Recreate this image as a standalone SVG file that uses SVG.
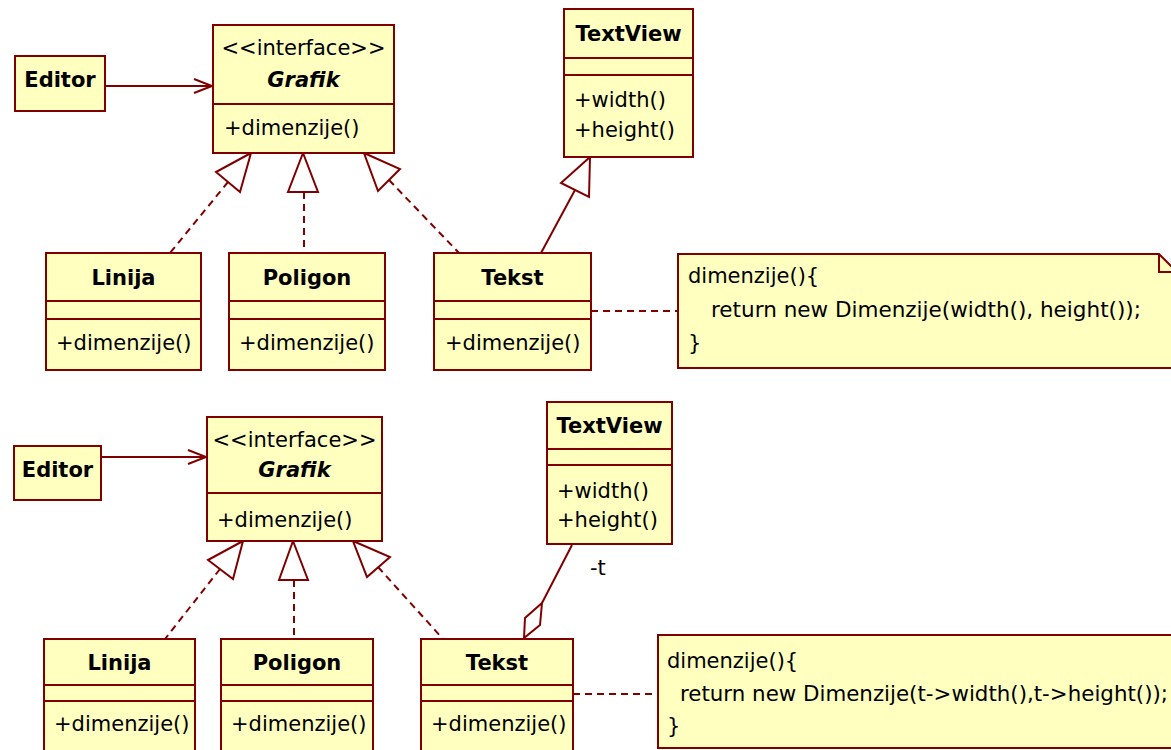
<svg xmlns="http://www.w3.org/2000/svg" width="1171" height="750" viewBox="0 0 1171 750">
<style>
.box{fill:#FFFFC0;stroke:#800000;stroke-width:2}
.div{stroke:#800000;stroke-width:2}
.ln{fill:none;stroke:#800000;stroke-width:2}
.dash{fill:none;stroke:#800000;stroke-width:2;stroke-dasharray:7 5}
.tri{fill:#FFFFFF;stroke:#800000;stroke-width:2;stroke-linejoin:miter}
.t{font-family:"DejaVu Sans",Verdana,sans-serif;font-size:21px;fill:#000}
.b{font-weight:bold}
.c{text-anchor:middle}
.bi{font-weight:bold;font-style:italic}
</style>
<rect width="1171" height="750" fill="#FFFFFF"/>

<g id="connectors">
  <!-- top -->
  <line class="ln" x1="105" y1="86" x2="212" y2="86"/>
  <polyline class="ln" points="194,79 212,86 194,93"/>
  <line class="dash" x1="228" y1="182" x2="170" y2="253"/>
  <polygon class="tri" points="251,153 216,172 240,192"/>
  <line class="dash" x1="304" y1="192" x2="304" y2="253"/>
  <polygon class="tri" points="303,153 288,192 318,192"/>
  <line class="dash" x1="389" y1="180" x2="459" y2="253"/>
  <polygon class="tri" points="364,153 400,169 378,191"/>
  <line class="ln" x1="575" y1="190" x2="541" y2="253"/>
  <polygon class="tri" points="590,157 561,183 589,197"/>
  <line class="dash" x1="591" y1="311" x2="678" y2="311"/>
  <!-- bottom -->
  <line class="ln" x1="101" y1="457" x2="206" y2="457"/>
  <polyline class="ln" points="188,450 206,457 188,464"/>
  <line class="dash" x1="220" y1="569" x2="165" y2="639"/>
  <polygon class="tri" points="243,541 208,560 233,579"/>
  <line class="dash" x1="294" y1="580" x2="294" y2="639"/>
  <polygon class="tri" points="293,541 279,580 308,580"/>
  <line class="dash" x1="378" y1="567" x2="443" y2="639"/>
  <polygon class="tri" points="353,541 390,557 367,577"/>
  <line class="ln" x1="572" y1="545" x2="542" y2="603"/>
  <polygon class="tri" points="524,638 525,618 542,603 540,625"/>
  <text class="t" x="590" y="575">-t</text>
  <line class="dash" x1="573" y1="694" x2="658" y2="694"/>
</g>

<!-- top diagram -->
<g id="editor1">
  <rect class="box" x="15" y="56" width="90" height="55"/>
  <text class="t b c" x="60" y="87">Editor</text>
</g>
<g id="grafik1">
  <rect class="box" x="213" y="25" width="181" height="128"/>
  <line class="div" x1="213" y1="104" x2="394" y2="104"/>
  <text class="t c" x="303.5" y="55">&lt;&lt;interface&gt;&gt;</text>
  <text class="t bi c" x="303.5" y="87">Grafik</text>
  <text class="t" x="224" y="135">+dimenzije()</text>
</g>
<g id="textview1">
  <rect class="box" x="564" y="9" width="129" height="148"/>
  <line class="div" x1="564" y1="58" x2="693" y2="58"/>
  <line class="div" x1="564" y1="75" x2="693" y2="75"/>
  <text class="t b c" x="628.5" y="41">TextView</text>
  <text class="t" x="574" y="107">+width()</text>
  <text class="t" x="574" y="137">+height()</text>
</g>
<g id="linija1">
  <rect class="box" x="46" y="253" width="155" height="117"/>
  <line class="div" x1="46" y1="301" x2="201" y2="301"/>
  <line class="div" x1="46" y1="319" x2="201" y2="319"/>
  <text class="t b c" x="123.5" y="285">Linija</text>
  <text class="t" x="56" y="350">+dimenzije()</text>
</g>
<g id="poligon1">
  <rect class="box" x="229" y="253" width="156" height="117"/>
  <line class="div" x1="229" y1="301" x2="385" y2="301"/>
  <line class="div" x1="229" y1="319" x2="385" y2="319"/>
  <text class="t b c" x="307" y="285">Poligon</text>
  <text class="t" x="239" y="350">+dimenzije()</text>
</g>
<g id="tekst1">
  <rect class="box" x="434" y="253" width="157" height="117"/>
  <line class="div" x1="434" y1="301" x2="591" y2="301"/>
  <line class="div" x1="434" y1="319" x2="591" y2="319"/>
  <text class="t b c" x="512.5" y="285">Tekst</text>
  <text class="t" x="445" y="350">+dimenzije()</text>
</g>
<g id="note1">
  <polygon class="box" points="678,254 1159,254 1177,272 1177,368 678,368"/>
  <polyline class="ln" points="1159,254 1159,272 1177,272"/>
  <text class="t" x="688" y="283">dimenzije(){</text>
  <text class="t" x="711" y="317" textLength="430" lengthAdjust="spacingAndGlyphs">return new Dimenzije(width(), height());</text>
  <text class="t" x="688" y="350">}</text>
</g>

<!-- bottom diagram -->
<g id="editor2">
  <rect class="box" x="14" y="446" width="87" height="54"/>
  <text class="t b c" x="57.5" y="477">Editor</text>
</g>
<g id="grafik2">
  <rect class="box" x="207" y="417" width="175" height="124"/>
  <line class="div" x1="207" y1="493" x2="382" y2="493"/>
  <text class="t c" x="294.5" y="447">&lt;&lt;interface&gt;&gt;</text>
  <text class="t bi c" x="294.5" y="477">Grafik</text>
  <text class="t" x="217" y="527">+dimenzije()</text>
</g>
<g id="textview2">
  <rect class="box" x="547" y="402" width="125" height="142"/>
  <line class="div" x1="547" y1="449" x2="672" y2="449"/>
  <line class="div" x1="547" y1="465" x2="672" y2="465"/>
  <text class="t b c" x="609.5" y="433">TextView</text>
  <text class="t" x="557" y="498">+width()</text>
  <text class="t" x="557" y="527">+height()</text>
</g>
<g id="linija2">
  <rect class="box" x="44" y="639" width="151" height="130"/>
  <line class="div" x1="44" y1="685" x2="195" y2="685"/>
  <line class="div" x1="44" y1="701" x2="195" y2="701"/>
  <text class="t b c" x="119.5" y="670">Linija</text>
  <text class="t" x="54" y="731">+dimenzije()</text>
</g>
<g id="poligon2">
  <rect class="box" x="221" y="639" width="152" height="130"/>
  <line class="div" x1="221" y1="685" x2="373" y2="685"/>
  <line class="div" x1="221" y1="701" x2="373" y2="701"/>
  <text class="t b c" x="297" y="670">Poligon</text>
  <text class="t" x="231" y="731">+dimenzije()</text>
</g>
<g id="tekst2">
  <rect class="box" x="421" y="639" width="152" height="130"/>
  <line class="div" x1="421" y1="685" x2="573" y2="685"/>
  <line class="div" x1="421" y1="701" x2="573" y2="701"/>
  <text class="t b c" x="497" y="670">Tekst</text>
  <text class="t" x="431" y="731">+dimenzije()</text>
</g>
<g id="note2">
  <rect class="box" x="658" y="635" width="530" height="113"/>
  <text class="t" x="667" y="668">dimenzije(){</text>
  <text class="t" x="680" y="701" textLength="488" lengthAdjust="spacingAndGlyphs">return new Dimenzije(t-&gt;width(),t-&gt;height());</text>
  <text class="t" x="667" y="733">}</text>
</g>
</svg>
